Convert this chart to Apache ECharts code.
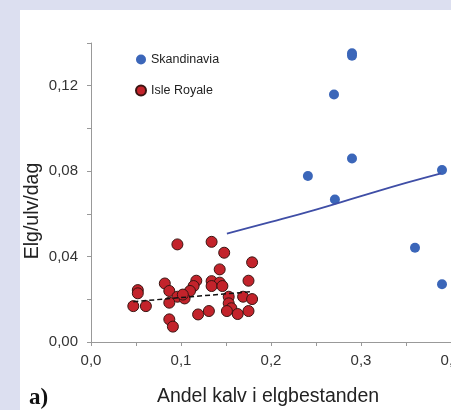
<!DOCTYPE html>
<html>
<head>
<meta charset="utf-8">
<script src="https://cdn.jsdelivr.net/npm/echarts@6/dist/echarts.min.js"></script>
<style>
  html, body { margin: 0; padding: 0; }
  #chart { width: 451px; height: 410px; }
</style>
</head>
<body>
<div id="chart"></div>
<script>
// Skandinavia: [andel kalv, elg/ulv/dag]
var skandinavia = [
  [0.290, 0.1352], [0.290, 0.1340], [0.270, 0.1159], [0.290, 0.0859],
  [0.241, 0.0777], [0.271, 0.0667], [0.390, 0.0805], [0.360, 0.0441],
  [0.390, 0.0270]
];

var isleRoyale = [
  [0.096, 0.0457], [0.134, 0.0469], [0.148, 0.0418], [0.179, 0.0373],
  [0.143, 0.0340], [0.175, 0.0287], [0.117, 0.0287], [0.134, 0.0285],
  [0.143, 0.0278], [0.134, 0.0262], [0.146, 0.0262], [0.114, 0.0262],
  [0.110, 0.0239], [0.082, 0.0274], [0.087, 0.0239], [0.052, 0.0243],
  [0.052, 0.0228], [0.096, 0.0212], [0.104, 0.0204], [0.087, 0.0184],
  [0.047, 0.0168], [0.061, 0.0168], [0.153, 0.0212], [0.169, 0.0212],
  [0.179, 0.0201], [0.153, 0.0181], [0.156, 0.0158], [0.175, 0.0145],
  [0.163, 0.0131], [0.131, 0.0145], [0.119, 0.0129], [0.087, 0.0106],
  [0.091, 0.0072], [0.151, 0.0145], [0.102, 0.0222]
];

// trend lines
var skandTrend = [
  [0.151, 0.0508], [0.20, 0.0562], [0.25, 0.0620], [0.30, 0.0683],
  [0.35, 0.0745], [0.389, 0.0790]
];
var isleTrend = [[0.047, 0.0189], [0.177, 0.0235]];

var seriesNames = ["Skandinavia", "Isle Royale"];
var xTitle = "Andel kalv i elgbestanden";
var yTitle = "Elg/ulv/dag";

var chart = echarts.init(document.getElementById("chart"));

var option = {
  backgroundColor: "#dcdff0",
  animation: false,
  textStyle: { fontFamily: "Liberation Sans, Arial, sans-serif" },
  graphic: [
    {
      type: "rect",
      z: -10,
      shape: { x: 20, y: 10, width: 440, height: 410 },
      style: { fill: "#ffffff" },
    },
    {
      type: "text",
      x: 33,
      y: 211,
      rotation: Math.PI / 2,
      style: {
        text: yTitle,
        fontSize: 19.5,
        fill: "#222",
        align: "center",
        verticalAlign: "middle",
        fontFamily: "Liberation Sans, Arial, sans-serif",
      },
    },
    {
      type: "text",
      x: 268,
      y: 397,
      style: {
        text: xTitle,
        fontSize: 19.5,
        fill: "#222",
        align: "center",
        verticalAlign: "middle",
        fontFamily: "Liberation Sans, Arial, sans-serif",
      },
    },
    {
      type: "text",
      x: 29,
      y: 398,
      style: {
        text: "a)",
        fontSize: 23,
        fontWeight: "bold",
        fill: "#111",
        verticalAlign: "middle",
        fontFamily: "Liberation Serif, Times New Roman, serif",
      },
    },
  ],
  legend: {
    data: seriesNames,
    orient: "vertical",
    left: 130,
    top: 48,
    itemWidth: 10,
    itemHeight: 10,
    itemGap: 18,
    icon: "circle",
    textStyle: { fontSize: 12.5, color: "#222" },
  },
  grid: {
    left: 91,
    top: 43,
    right: 0,
    height: 299,
    outerBoundsMode: "none",
  },
  xAxis: {
    type: "value",
    min: 0,
    max: 0.4,
    interval: 0.05,
    axisLine: { lineStyle: { color: "#999", width: 1 } },
    axisTick: { length: 4, lineStyle: { color: "#999" } },
    splitLine: { show: false },
    axisLabel: {
      margin: 11,
      fontSize: 15,
      color: "#333",
      showMaxLabel: true,
      hideOverlap: false,
      formatter: function(v) {
        var k = Math.round(v * 100);
        if (k % 10 !== 0) return "";
        return v.toFixed(1).replace(".", ",");
      },
    },
  },
  yAxis: {
    type: "value",
    min: 0,
    max: 0.14,
    interval: 0.02,
    axisLine: { show: true, lineStyle: { color: "#999", width: 1 } },
    axisTick: { show: true, length: 4, lineStyle: { color: "#999" } },
    splitLine: { show: false },
    axisLabel: {
      margin: 13,
      fontSize: 15,
      color: "#333",
      formatter: function(v) {
        var k = Math.round(v * 100);
        if (k % 4 !== 0) return "";
        return v.toFixed(2).replace(".", ",");
      },
    },
  },
  series: [
    {
      name: "Skandinavia",
      type: "scatter",
      symbolSize: 10,
      itemStyle: { color: "#3b66b9", opacity: 1 },
      data: skandinavia,
      z: 3,
    },
    {
      name: "Isle Royale",
      type: "scatter",
      symbolSize: 11,
      itemStyle: { color: "#c3232b", borderColor: "#3a1512", borderWidth: 1, opacity: 1 },
      data: isleRoyale,
      z: 2,
    },
    {
      name: "trend Skandinavia",
      type: "line",
      smooth: true,
      showSymbol: false,
      lineStyle: { color: "#3f4ea6", width: 1.8 },
      data: skandTrend,
      z: 4,
    },
    {
      name: "trend Isle Royale",
      type: "line",
      showSymbol: false,
      lineStyle: { color: "#111", width: 1.5, type: [5, 3] },
      data: isleTrend,
      z: 4,
    },
  ],
};

chart.setOption(option);
</script>
</body>
</html>
